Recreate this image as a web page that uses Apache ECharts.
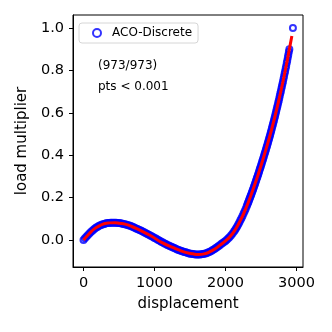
<!DOCTYPE html>
<html>
<head>
<meta charset="utf-8">
<script src="https://cdn.jsdelivr.net/npm/echarts@6/dist/echarts.min.js"></script>
<style>
html,body{margin:0;padding:0;background:#fff;}
#c{width:332px;height:332px;}
</style>
</head>
<body>
<div id="c"></div>
<script>
// Scatter points (ACO-Discrete)
const ptsX = [0,20,40,60,80,100,120,140,160,180,200,220,240,260,280,300,320,340,360,380,400,420,440,460,480,500,520,540,560,580,600,620,640,660,680,700,720,740,760,780,800,820,840,860,880,900,920,940,960,980,1000,1020,1040,1060,1080,1100,1120,1140,1160,1180,1200,1220,1240,1260,1280,1300,1320,1340,1360,1380,1400,1420,1440,1460,1480,1500,1520,1540,1560,1580,1600,1620,1640,1660,1680,1700,1720,1740,1760,1780,1800,1820,1840,1860,1880,1900,1920,1940,1960,1980,2000,2020,2040,2060,2080,2100,2120,2135,2150,2165,2180,2195,2210,2225,2240,2255,2270,2284,2298,2307,2315,2323,2330,2338,2345,2353,2360,2368,2375,2383,2390,2398,2405,2413,2420,2428,2435,2443,2450,2458,2465,2473,2480,2488,2495,2503,2510,2518,2525,2533,2540,2548,2555,2563,2570,2578,2585,2593,2600,2608,2615,2623,2630,2638,2645,2653,2660,2668,2675,2683,2690,2698,2705,2713,2720,2728,2735,2743,2750,2758,2765,2773,2780,2788,2795,2803,2810,2818,2825,2833,2840,2848,2855,2863,2870,2878,2885,2893,2900,2950];
const ptsY = [0.000,0.008,0.016,0.023,0.030,0.037,0.043,0.049,0.054,0.059,
  0.063,0.067,0.070,0.073,0.075,0.077,0.079,0.080,0.081,0.082,
  0.082,0.082,0.082,0.082,0.081,0.080,0.079,0.078,0.076,0.075,
  0.073,0.071,0.069,0.067,0.064,0.061,0.058,0.055,0.052,0.049,
  0.046,0.043,0.039,0.036,0.032,0.029,0.025,0.022,0.018,0.014,
  0.010,0.007,0.003,-0.001,-0.005,-0.009,-0.012,-0.016,-0.019,-0.023,
  -0.026,-0.029,-0.032,-0.035,-0.038,-0.041,-0.044,-0.047,-0.049,-0.052,
  -0.054,-0.056,-0.058,-0.060,-0.062,-0.064,-0.065,-0.066,-0.067,-0.068,
  -0.068,-0.068,-0.068,-0.067,-0.066,-0.065,-0.063,-0.061,-0.058,-0.055,
  -0.051,-0.047,-0.043,-0.039,-0.034,-0.029,-0.024,-0.019,-0.014,-0.009,
  -0.004,0.002,0.008,0.015,0.023,0.031,0.040,0.048,0.056,0.064,
  0.073,0.083,0.093,0.103,0.113,0.125,0.136,0.147,0.158,0.166,
  0.173,0.180,0.186,0.193,0.199,0.206,0.212,0.220,0.226,0.234,
  0.240,0.248,0.255,0.262,0.269,0.277,0.284,0.292,0.299,0.307,
  0.314,0.322,0.330,0.338,0.345,0.354,0.361,0.370,0.378,0.386,
  0.394,0.403,0.411,0.419,0.427,0.436,0.444,0.453,0.461,0.470,
  0.479,0.488,0.497,0.507,0.515,0.526,0.535,0.545,0.554,0.564,
  0.574,0.584,0.594,0.605,0.615,0.626,0.636,0.647,0.657,0.669,
  0.680,0.692,0.702,0.714,0.725,0.737,0.748,0.761,0.772,0.785,
  0.796,0.809,0.821,0.835,0.847,0.861,0.874,0.888,0.900,1.000];
// Fitted curve (red line)
const fitX = [0,80,162,230,303,370,444,510,585,680,772,870,960,1100,1265,1360,1453,1540,1617,1700,1782,1850,1923,2000,2063,2120,2180,2240,2298,2360,2415,2465,2510,2560,2603,2651,2700,2750,2800,2850,2900,2935];
const fitY = [0.000,0.030,0.055,0.068,0.078,0.081,0.082,0.079,0.075,0.064,0.050,0.034,0.018,-0.011,-0.036,-0.049,-0.059,-0.065,-0.068,-0.065,-0.055,-0.042,-0.024,-0.004,0.016,0.040,0.073,0.113,0.158,0.212,0.264,0.314,0.361,0.416,0.465,0.523,0.587,0.657,0.732,0.812,0.900,0.962];
const xTicks = [0,1000,2000,3000];
const yTicks = [0.0,0.2,0.4,0.6,0.8,1.0];
const seriesName = 'ACO-Discrete';
const notes = ['(973/973)','pts < 0.001'];

const font = 'DejaVu Sans';
const chart = echarts.init(document.getElementById('c'), null, {renderer:'canvas'});
chart.setOption({
  animation:false,
  backgroundColor:'#fff',
  grid:{left:73,right:29,top:15,bottom:65,show:true,borderColor:'#000',borderWidth:1,backgroundColor:'transparent'},
  legend:{
    data:[seriesName], left:79, top:23, orient:'horizontal',
    itemWidth:20, itemHeight:8, itemGap:5,
    padding:[4,6,4,13],
    backgroundColor:'#fff', borderColor:'#d6d6d6', borderWidth:1, borderRadius:3,
    textStyle:{fontFamily:font,fontSize:12,color:'#000'}
  },
  graphic:[
    {type:'text',left:98,top:60,style:{text:notes[0],fontFamily:font,fontSize:12,fill:'#000'}},
    {type:'text',left:98,top:81,style:{text:notes[1],fontFamily:font,fontSize:12,fill:'#000'}}
  ],
  xAxis:{
    type:'value', min:-148, max:3092,
    name:'displacement', nameLocation:'middle', nameGap:30,
    nameTextStyle:{fontFamily:font,fontSize:15,color:'#000'},
    axisLine:{show:true,onZero:false,lineStyle:{color:'#000',width:1}},
    axisTick:{show:true,length:4,customValues:xTicks,lineStyle:{color:'#000',width:1}},
    axisLabel:{show:true,customValues:xTicks,margin:9,fontFamily:font,fontSize:14.5,color:'#000',
      formatter:function(v){return String(Math.round(v));}},
    splitLine:{show:false}
  },
  yAxis:{
    type:'value', min:-0.127, max:1.061,
    name:'load multiplier', nameLocation:'middle', nameGap:41,
    nameTextStyle:{fontFamily:font,fontSize:15,color:'#000'},
    axisLine:{show:true,onZero:false,lineStyle:{color:'#000',width:1}},
    axisTick:{show:true,length:4,customValues:yTicks,lineStyle:{color:'#000',width:1}},
    axisLabel:{show:true,customValues:yTicks,margin:9,fontFamily:font,fontSize:14.5,color:'#000',
      formatter:function(v){return v.toFixed(1);}},
    splitLine:{show:false}
  },
  series:[
    {
      name:seriesName, type:'scatter', symbol:'circle', symbolSize:6,
      itemStyle:{color:'rgba(0,0,0,0)',borderColor:'#0000ff',borderWidth:2},
      data:ptsX.map(function(x,i){return [x,ptsY[i]];}), z:2
    },
    {
      name:'fit', type:'line', smooth:true, showSymbol:false, symbol:'none',
      lineStyle:{color:'#ff0000',width:3},
      data:fitX.map(function(x,i){return [x,fitY[i]];}), z:3
    }
  ]
});
</script>
</body>
</html>
